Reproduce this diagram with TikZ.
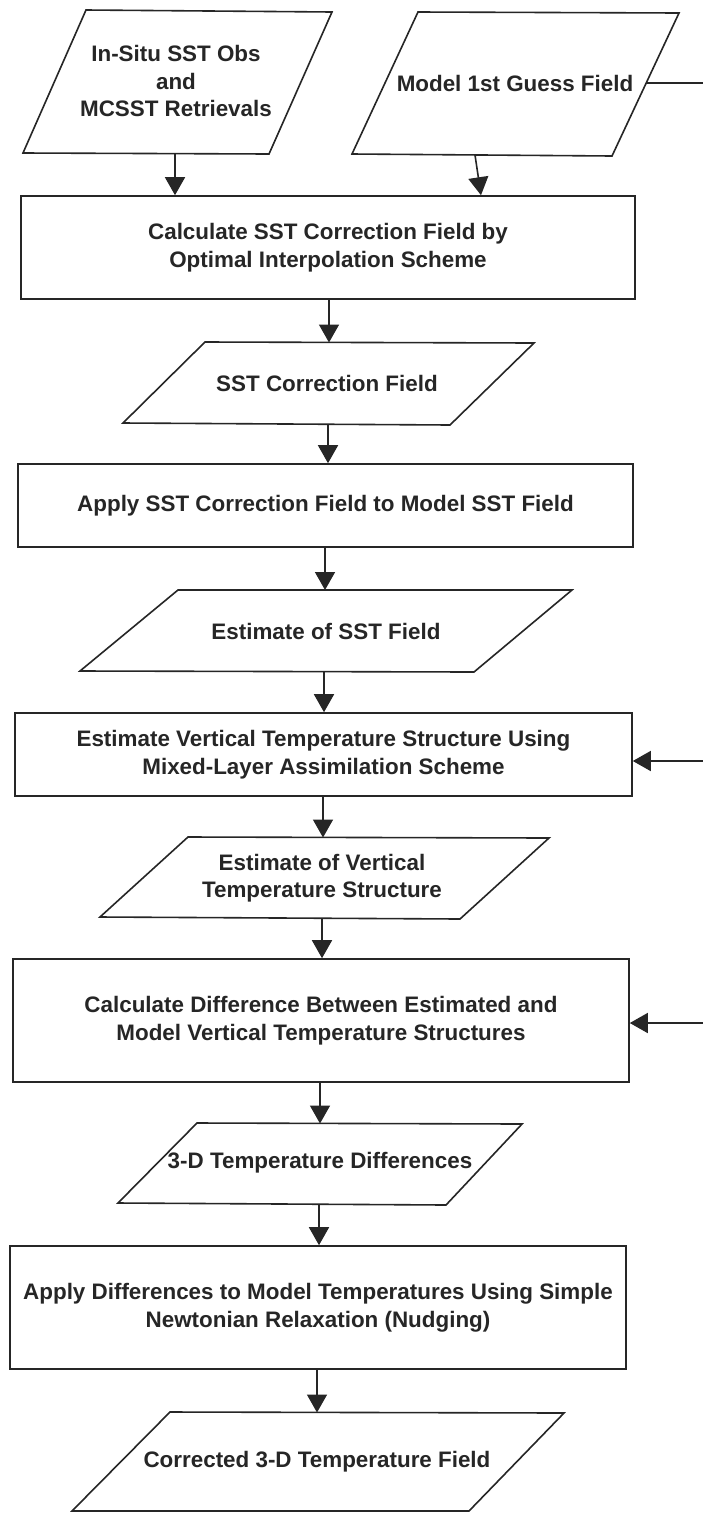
\documentclass[tikz,border=0pt]{standalone}
\usepackage{fontspec}
\setmainfont{Liberation Sans}
\usetikzlibrary{arrows.meta}
\definecolor{ink}{HTML}{262626}
\begin{document}
\begin{tikzpicture}[x=1pt,y=-1pt,
  lbl/.style={font=\fontsize{22.4}{27.5}\selectfont\bfseries, text=ink, align=center, inner sep=0pt},
  procbox/.style={draw=ink, line width=1.6pt, rectangle, inner sep=0pt,
     font=\fontsize{22.4}{27.5}\selectfont\bfseries, text=ink, align=center},
  io/.style={draw=ink, line width=1.6pt, line join=miter},
  flow/.style={draw=ink, line width=1.6pt, -{Triangle[length=18pt,width=20pt]}},
  plain/.style={draw=ink, line width=1.6pt},
]
\fill[white] (0,0) rectangle (703,1513);
\useasboundingbox (0,0) rectangle (703,1513);

% input parallelograms
\draw[io] (86,10) -- (332,12) -- (269,154) -- (23,153) -- cycle;
\node[lbl] (p1) at (176,81) {In-Situ SST Obs\\and\\MCSST Retrievals};
\draw[io] (418,12) -- (679,13) -- (612,156) -- (352,154) -- cycle;
\node[lbl] (p2) at (515,83) {Model 1st Guess Field};

% process boxes
\node[procbox, minimum width=614pt, minimum height=103pt] (b1) at (328,247.5)
  {Calculate SST Correction Field by\\Optimal Interpolation Scheme};
\node[procbox, minimum width=615pt, minimum height=83pt] (b2) at (325.5,505.5)
  {Apply SST Correction Field to Model SST Field};
\node[procbox, minimum width=617pt, minimum height=83pt] (b3) at (323.5,754.5)
  {Estimate Vertical Temperature Structure Using\\Mixed-Layer Assimilation Scheme};
\node[procbox, minimum width=616pt, minimum height=123pt] (b4) at (321,1020.5)
  {Calculate Difference Between Estimated and\\Model Vertical Temperature Structures};
\node[procbox, minimum width=616pt, minimum height=123pt] (b5) at (318,1307.5)
  {Apply Differences to Model Temperatures Using Simple\\Newtonian Relaxation (Nudging)};

% data parallelograms
\draw[io] (205,342) -- (534,343) -- (450,425) -- (123,423) -- cycle;
\node[lbl] (p3) at (327,383) {SST Correction Field};
\draw[io] (178,590) -- (572,590) -- (474,672) -- (80,671) -- cycle;
\node[lbl] (p4) at (326,631) {Estimate of SST Field};
\draw[io] (188,837) -- (549,838) -- (460,919) -- (100,917) -- cycle;
\node[lbl] (p5) at (322,878) {Estimate of Vertical\\Temperature Structure};
\draw[io] (197,1123) -- (522,1124) -- (446,1205) -- (118,1203) -- cycle;
\node[lbl] (p6) at (320,1163) {3-D Temperature Differences};
\draw[io] (170,1412) -- (564,1413) -- (469,1511) -- (72,1511) -- cycle;
\node[lbl] (p7) at (317,1462) {Corrected 3-D Temperature Field};

% connection points on parallelograms
\coordinate (p1bot) at (175,153.5);
\coordinate (p2bot) at (475,155);
\coordinate (p2hit) at (481,0);
\coordinate (p2east) at (646,83);
\coordinate (p3top) at (329,342.5);
\coordinate (p3bot) at (328,424);
\coordinate (p4top) at (325,590);
\coordinate (p4bot) at (324,671.5);
\coordinate (p5top) at (323,837.5);
\coordinate (p5bot) at (322,918);
\coordinate (p6top) at (320,1123.5);
\coordinate (p6bot) at (319,1204);
\coordinate (p7top) at (317,1412.5);
\coordinate (r0) at (703,83);
\coordinate (r1) at (703,761);
\coordinate (r2) at (703,1023);

% connectors
\draw[flow] (p1bot) -- (p1bot |- b1.north);
\draw[flow] (p2bot) -- (b1.north -| p2hit);
\draw[plain] (p2east) -- (r0);
\draw[flow] (b1.south -| p3top) -- (p3top);
\draw[flow] (p3bot) -- (p3bot |- b2.north);
\draw[flow] (b2.south -| p4top) -- (p4top);
\draw[flow] (p4bot) -- (p4bot |- b3.north);
\draw[flow] (b3.south -| p5top) -- (p5top);
\draw[flow] (p5bot) -- (p5bot |- b4.north);
\draw[flow] (b4.south -| p6top) -- (p6top);
\draw[flow] (p6bot) -- (p6bot |- b5.north);
\draw[flow] (b5.south -| p7top) -- (p7top);
\draw[flow] (r1) -- (r1 -| b3.east);
\draw[flow] (r2) -- (r2 -| b4.east);
\end{tikzpicture}
\end{document}
